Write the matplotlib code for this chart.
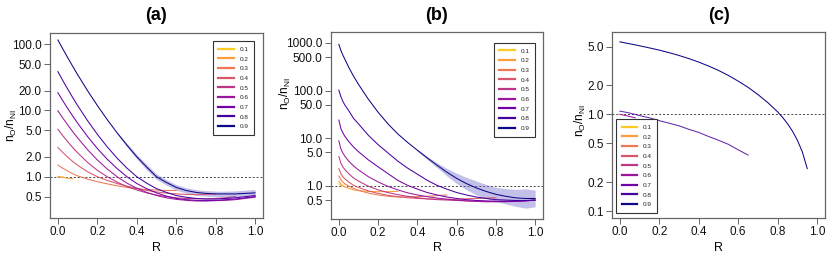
import matplotlib
matplotlib.use('Agg')
import matplotlib.pyplot as plt
import numpy as np

plt.rcParams['font.family'] = ['Liberation Sans', 'DejaVu Sans']

levels = ['0.1', '0.2', '0.3', '0.4', '0.5', '0.6', '0.7', '0.8', '0.9']
colors = ['#FDC926', '#FA9E3B', '#ED7953', '#D8576B', '#BD3786',
          '#9C179E', '#7301A8', '#47039F', '#0D0887']

# ---------------- panel (a) ----------------
ra = [0, 0.025, 0.05, 0.075, 0.1, 0.15, 0.2, 0.25, 0.3, 0.35, 0.4, 0.45,
      0.5, 0.55, 0.6, 0.65, 0.7, 0.75, 0.8, 0.85, 0.9, 0.95, 1.0]
a01 = [1.0, 0.99]
a02 = [1.0, 0.98, 0.95, 0.93]
a03 = [1.5, 1.34, 1.22, 1.11, 1.03, 0.92, 0.84, 0.78, 0.73, 0.69, 0.66, 0.64,
       0.63, 0.62, 0.62]
a04 = [2.77, 2.32, 1.97, 1.70, 1.49, 1.19, 1.0, 0.88, 0.79, 0.72, 0.67, 0.62,
       0.59, 0.565, 0.55, 0.54, 0.535, 0.54, 0.55]
a05 = [5.2, 4.16, 3.37, 2.76, 2.3, 1.65, 1.25, 1.0, 0.83, 0.71, 0.63, 0.57,
       0.53, 0.5, 0.48, 0.47, 0.465, 0.465, 0.47, 0.48, 0.5]
a06 = [9.9, 7.7, 6.05, 4.8, 3.86, 2.57, 1.79, 1.31, 1.0, 0.8, 0.67, 0.58,
       0.52, 0.48, 0.455, 0.44, 0.43, 0.43, 0.435, 0.44, 0.45, 0.47, 0.49]
a07 = [18.6, 14.0, 10.7, 8.26, 6.45, 4.06, 2.67, 1.84, 1.33, 1.0, 0.79, 0.66,
       0.57, 0.51, 0.47, 0.45, 0.44, 0.435, 0.44, 0.45, 0.46, 0.48, 0.5]
a08 = [38.6, 28.3, 21.0, 15.7, 11.9, 7.05, 4.37, 2.83, 1.91, 1.35, 1.0, 0.8,
       0.66, 0.58, 0.52, 0.49, 0.47, 0.46, 0.46, 0.47, 0.48, 0.5, 0.52]
a09 = [116, 85, 62.6, 46.6, 34.8, 20.0, 11.9, 7.3, 4.6, 3.0, 2.0, 1.4,
       1.0, 0.82, 0.69, 0.62, 0.58, 0.56, 0.55, 0.55, 0.55, 0.56, 0.57]
a09_band_r = [0.3, 0.35, 0.4, 0.45, 0.5, 0.55, 0.6, 0.65, 0.7, 0.75, 0.8, 0.85, 0.9, 0.95, 1.0]
a09_band_f = [1.03, 1.06, 1.08, 1.1, 1.1, 1.1, 1.1, 1.1, 1.1, 1.1, 1.1, 1.1, 1.11, 1.12, 1.12]

# ---------------- panel (b) ----------------
rb = [0, 0.01, 0.02, 0.03, 0.05, 0.075, 0.1, 0.15, 0.2, 0.25, 0.3, 0.35, 0.4,
      0.45, 0.5, 0.55, 0.6, 0.65, 0.7, 0.75, 0.8, 0.85, 0.9, 0.95, 1.0]
b01 = [1.1, 1.02, 0.98, 0.95]
b02 = [1.25, 1.1, 1.0, 0.95, 0.88, 0.82, 0.79, 0.76, 0.75, 0.75, 0.76]
b03 = [1.6, 1.35, 1.2, 1.1, 0.98, 0.88, 0.8, 0.7, 0.64, 0.6, 0.58, 0.58, 0.59,
       0.6, 0.62, 0.64]
b04 = [2.3, 1.8, 1.55, 1.4, 1.2, 1.02, 0.92, 0.78, 0.69, 0.63, 0.59, 0.56, 0.54,
       0.53, 0.52, 0.52, 0.52, 0.53, 0.54, 0.55, 0.56]
b05 = [4.1, 3.0, 2.5, 2.2, 1.8, 1.45, 1.25, 0.98, 0.82, 0.72, 0.65, 0.6, 0.56,
       0.53, 0.51, 0.5, 0.49, 0.48, 0.475, 0.47, 0.47, 0.47, 0.48]
b06 = [8.8, 6.0, 4.9, 4.2, 3.3, 2.6, 2.15, 1.55, 1.2, 0.97, 0.82, 0.71, 0.64,
       0.59, 0.55, 0.52, 0.5, 0.48, 0.47, 0.46, 0.46, 0.46, 0.47, 0.48, 0.5]
b07 = [24, 16, 13, 11, 8.5, 6.5, 5.2, 3.5, 2.5, 1.8, 1.3, 1.02, 0.85,
       0.72, 0.64, 0.58, 0.54, 0.51, 0.49, 0.48, 0.47, 0.47, 0.47, 0.48, 0.5]
b08 = [102, 75, 60, 50, 38, 26, 20, 11.5, 7.3, 4.9, 3.3, 2.35, 1.75,
       1.3, 1.02, 0.85, 0.72, 0.64, 0.58, 0.54, 0.51, 0.5, 0.49, 0.49, 0.5]
b09 = [935, 700, 560, 460, 310, 200, 135, 66, 35, 20, 12.3, 8.15, 5.57,
       3.85, 2.7, 1.93, 1.43, 1.11, 0.9, 0.76, 0.66, 0.6, 0.557, 0.54, 0.54]
b09_band_r = [0.4, 0.45, 0.5, 0.55, 0.6, 0.65, 0.7, 0.75, 0.8, 0.85, 0.9, 0.95, 1.0]
b09_band_f = [1.04, 1.08, 1.12, 1.2, 1.28, 1.35, 1.4, 1.4, 1.4, 1.45, 1.5, 1.6, 1.5]

# ---------------- panel (c) ----------------
rc = [0, 0.05, 0.1, 0.15, 0.2, 0.25, 0.3, 0.35, 0.4, 0.45, 0.5, 0.55, 0.6,
      0.65, 0.7, 0.75, 0.8, 0.825, 0.85, 0.875, 0.9, 0.925, 0.95]
rc07 = [0, 0.04, 0.078]
c07 = [1.0, 0.96, 0.92]
c08 = [1.08, 1.03, 0.97, 0.92, 0.86, 0.81, 0.76, 0.70, 0.65, 0.59, 0.54, 0.49,
       0.43, 0.38]
c09 = [5.6, 5.35, 5.1, 4.85, 4.6, 4.33, 4.05, 3.76, 3.46, 3.15, 2.84, 2.52,
       2.2, 1.9, 1.6, 1.32, 1.06, 0.93, 0.8, 0.67, 0.54, 0.41, 0.275]

yticks_a = [0.5, 1, 2, 5, 10, 20, 50, 100]
yticks_b = [0.5, 1, 5, 10, 50, 100, 500, 1000]
yticks_c = [0.1, 0.2, 0.5, 1, 2, 5]
xticks = [0.0, 0.2, 0.4, 0.6, 0.8, 1.0]

W, H = 830, 257
fig = plt.figure(figsize=(W / 100, H / 100), dpi=100)

def box(l, t, r, b):
    return [l / W, 1 - b / H, (r - l) / W, (b - t) / H]

axa = fig.add_axes(box(50, 33, 263, 218))
axb = fig.add_axes(box(331, 32, 543, 219))
axc = fig.add_axes(box(612, 32, 825, 218))

frame_col = '#666666'
band_col = '#7B74D0'

def style(ax, yticks, ylim):
    ax.set_yscale('log')
    ax.set_xlim(-0.04, 1.04)
    ax.set_ylim(*ylim)
    ax.set_xticks(xticks)
    ax.set_xticklabels(['%.1f' % v for v in xticks])
    ax.set_yticks(yticks)
    ax.set_yticklabels(['%.1f' % v for v in yticks])
    ax.yaxis.set_minor_locator(matplotlib.ticker.NullLocator())
    ax.tick_params(axis='both', which='major', length=4, width=0.7,
                   color=frame_col, labelsize=8.5, pad=2, labelcolor='#111111')
    for s in ax.spines.values():
        s.set_color(frame_col)
        s.set_linewidth(0.9)
    ax.axhline(1.0, color='#444444', lw=0.7, ls=(0, (2, 2)), zorder=1)

def draw(ax, r, series, lw=0.75):
    for vals, c in zip(series, colors):
        n = len(vals)
        ax.plot(r[:n], vals, color=c, lw=lw, zorder=3)

def band(ax, r_all, vals, br, bf):
    idx = [r_all.index(x) for x in br]
    v = np.array([vals[i] for i in idx])
    f = np.array(bf)
    ax.fill_between(br, v / f, v * f, color=band_col, alpha=0.45, lw=0, zorder=2)

def legend(ax, loc, anchor):
    handles = [matplotlib.lines.Line2D([], [], color=c, lw=1.6) for c in colors]
    lg = ax.legend(handles, levels, loc=loc, bbox_to_anchor=anchor,
                   borderaxespad=0, fontsize=4.6, labelspacing=0.66,
                   handlelength=2.4, handletextpad=0.9, borderpad=0.85,
                   fancybox=False, framealpha=1, edgecolor='#333333')
    lg.get_frame().set_linewidth(0.8)
    for t in lg.get_texts():
        t.set_color('#222222')

# panel a
style(axa, yticks_a, (0.238, 148))
band(axa, ra, a09, a09_band_r, a09_band_f)
draw(axa, ra, [a01, a02, a03, a04, a05, a06, a07, a08, a09])
legend(axa, 'upper left', (0.765, 0.957))

# panel b
style(axb, yticks_b, (0.2, 1700))
band(axb, rb, b09, b09_band_r, b09_band_f)
draw(axb, rb, [b01, b02, b03, b04, b05, b06, b07, b08, b09])
legend(axb, 'upper left', (0.769, 0.943))

# panel c
style(axc, yticks_c, (0.085, 7.08))
axc.plot(rc07, c07, color=colors[5], lw=0.75, zorder=3)
axc.plot(rc[:len(c08)], c08, color=colors[7], lw=0.75, alpha=0.85, zorder=3)
axc.plot(rc[:len(c09)], c09, color=colors[8], lw=0.75, zorder=3)
legend(axc, 'lower left', (0.021, 0.028))

# titles and labels
for ax, t in [(axa, '(a)'), (axb, '(b)'), (axc, '(c)')]:
    p = ax.get_position()
    cx = (p.x0 + p.x1) / 2
    fig.text(cx, 1 - 15 / H, t, ha='center', va='center', fontsize=13,
             fontweight='bold')
    fig.text(cx, 1 - 248 / H, 'R', ha='center', va='center', fontsize=9)

ylab = r'$\mathregular{n_O/n_{NI}}$'
for x, y in [(11, 126), (285, 94), (580, 121)]:
    fig.text(x / W, 1 - y / H, ylab, rotation=90, ha='center',
             va='center', fontsize=8.5)

fig.savefig('out.png', dpi=100)
